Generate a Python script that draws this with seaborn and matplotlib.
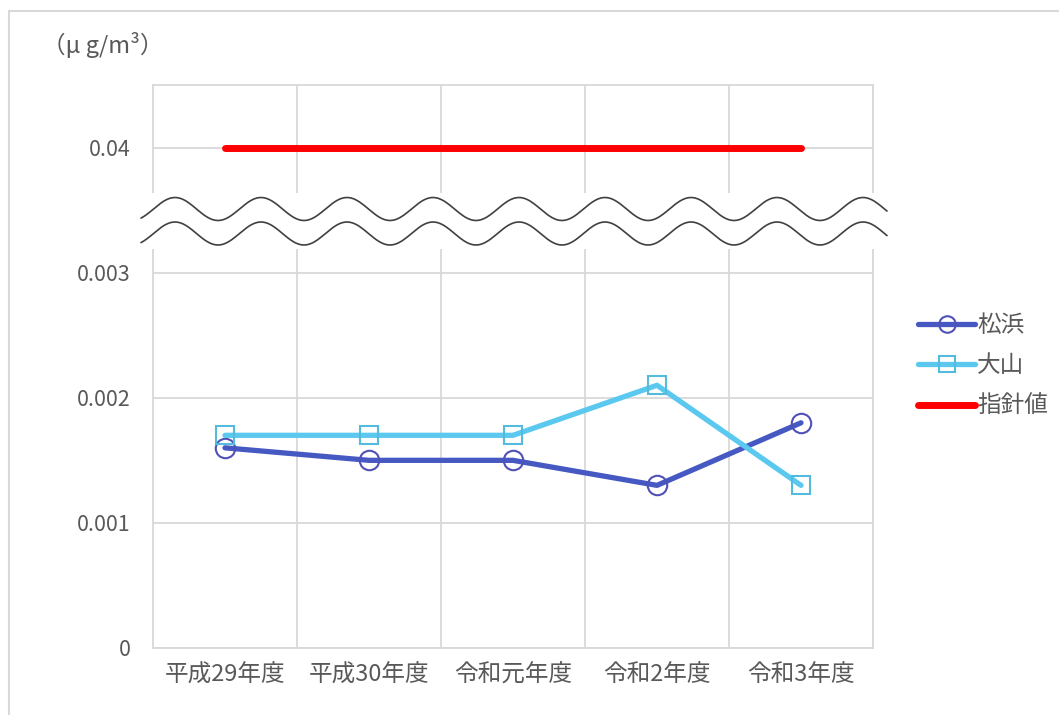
import numpy as np
import pandas as pd
import matplotlib
matplotlib.use("Agg")
import matplotlib.pyplot as plt
from matplotlib.lines import Line2D
from matplotlib.patches import Rectangle
import seaborn as sns

# ---- data ----
categories = ["平成29年度", "平成30年度", "令和元年度", "令和2年度", "令和3年度"]
matsuhama = [0.0016, 0.0015, 0.0015, 0.0013, 0.0018]
oyama = [0.0017, 0.0017, 0.0017, 0.0021, 0.0013]
guideline = [0.04, 0.04, 0.04, 0.04, 0.04]
series_names = ["松浜", "大山", "指針値"]
ytick_values = [0, 0.001, 0.002, 0.003, 0.04]
ytick_labels = ["0", "0.001", "0.002", "0.003", "0.04"]
unit_label = "（μ g/m³）"

sns.set_theme(style="white")
plt.rcParams["font.family"] = ["Noto Sans CJK JP", "DejaVu Sans"]
TXT = "#595959"
GRID = "#D9D9D9"

# broken axis: 0..0.003 linear, 0.003..0.04 compressed into one tick step
BREAK = 0.003
K = 37.0
def fwd(y):
    y = np.asarray(y, dtype=float)
    return np.where(y <= BREAK, y, BREAK + (y - BREAK) / K)
def inv(t):
    t = np.asarray(t, dtype=float)
    return np.where(t <= BREAK, t, BREAK + (t - BREAK) * K)

W, H = 1059, 715
fig = plt.figure(figsize=(W / 100, H / 100), dpi=100)
L, R, T, B = 153, 873, 85, 648
ax = fig.add_axes([L / W, 1 - B / H, (R - L) / W, (B - T) / H])
ax.set_yscale("function", functions=(fwd, inv))

x = np.arange(len(categories))
df = pd.DataFrame({"x": x, "m": matsuhama, "o": oyama, "g": guideline})

sns.lineplot(data=df, x="x", y="m", ax=ax, color="#4659C2", lw=3.8,
             marker="o", markersize=14, markerfacecolor="none",
             markeredgecolor="#5050B8", markeredgewidth=1.5,
             label=series_names[0], zorder=4)
sns.lineplot(data=df, x="x", y="o", ax=ax, color="#5BC8F0", lw=3.8,
             marker="s", markersize=13, markerfacecolor="none",
             markeredgecolor="#55BBDD", markeredgewidth=1.5,
             label=series_names[1], zorder=5)
sns.lineplot(data=df, x="x", y="g", ax=ax, color="#FF0000", lw=5,
             label=series_names[2], zorder=6, solid_capstyle="round")

ax.set_xlim(-0.5, len(categories) - 0.5)
ax.set_ylim(0, float(inv(0.0045)))
ax.set_yticks(ytick_values)
ax.set_yticklabels(ytick_labels)
ax.yaxis.set_minor_locator(matplotlib.ticker.NullLocator())
ax.set_xticks(x)
ax.set_xticklabels(categories)
ax.set_xticks(np.arange(-0.5, len(categories), 1.0), minor=True)
ax.set_xlabel("")
ax.set_ylabel("")
ax.tick_params(axis="both", which="both", length=0, colors=TXT)
ax.tick_params(axis="y", pad=16, labelsize=15.5)
ax.tick_params(axis="x", pad=11, labelsize=17)
ax.set_axisbelow(True)
ax.grid(True, axis="y", which="major", color=GRID, lw=1.3)
ax.grid(True, axis="x", which="minor", color=GRID, lw=1.3)
for s in ax.spines.values():
    s.set_color(GRID)
    s.set_linewidth(1.3)

# break decoration (pixel-based, axes coordinates)
def ax_x(px):
    return (np.asarray(px) - L) / (R - L)
def ax_y(py):
    return (B - np.asarray(py)) / (B - T)

ax.add_patch(Rectangle((ax_x(141), ax_y(249)), ax_x(887) - ax_x(141),
                       ax_y(193) - ax_y(249), transform=ax.transAxes,
                       facecolor="white", edgecolor="none", zorder=3,
                       clip_on=False))
xs = np.linspace(141, 887, 600)
for cy in (209.0, 233.5):
    ys = cy - 11.5 * np.cos(2 * np.pi * (xs - 175) / 86.0)
    ax.plot(ax_x(xs), ax_y(ys), transform=ax.transAxes, color="#404040",
            lw=1.2, clip_on=False, zorder=3.5)

ax.get_legend().remove()
handles, labels = ax.get_legend_handles_labels()
fig.legend(handles, labels, loc="center left",
           bbox_to_anchor=(897 / W, 1 - 366 / H), frameon=False,
           fontsize=17, labelcolor=TXT, handlelength=2.4,
           handletextpad=0.1, labelspacing=0.75, markerscale=0.85)

fig.text(42 / W, 1 - 45 / H, unit_label, fontsize=17, color=TXT,
         va="center", ha="left")

# outer chart border (left and top)
fig.add_artist(Line2D([9 / W, 9 / W], [0, 1 - 11 / H], color=GRID, lw=1.5,
                      transform=fig.transFigure))
fig.add_artist(Line2D([9 / W, 1], [1 - 11 / H, 1 - 11 / H], color=GRID,
                      lw=1.5, transform=fig.transFigure))

fig.savefig("out.png", dpi=100, facecolor="white")
